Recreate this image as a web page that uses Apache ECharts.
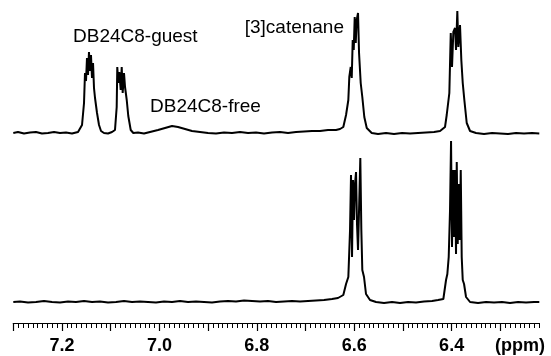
<!DOCTYPE html>
<html>
<head>
<meta charset="utf-8">
<script src="https://cdn.jsdelivr.net/npm/echarts@6/dist/echarts.min.js"></script>
<style>
  html, body { margin: 0; padding: 0; background: #fff; }
  #chart { width: 551px; height: 356px; }
</style>
</head>
<body>
<div id="chart"></div>
<script>
// chemical shift range shown (ppm), axis runs high -> low
const shiftMin = 6.22
const shiftMax = 7.30

// labelled ticks
const tickLabels = [6.4, 6.6, 6.8, 7.0, 7.2]

// upper spectrum (mixture): [ppm, intensity]
const topTrace = [
  [7.3000, 0], [7.2904, 1], [7.2780, -0.5], [7.2657, 0.5], [7.2534, 1], [7.2411, -0.5],
  [7.2288, 0], [7.2164, 1], [7.2041, 0], [7.1918, 0.5], [7.1795, -0.5], [7.1671, 1],
  [7.1630, 2], [7.1589, 8], [7.1548, 30], [7.1528, 60], [7.1507, 52], [7.1487, 75],
  [7.1466, 58], [7.1446, 81], [7.1425, 62], [7.1405, 78], [7.1384, 55], [7.1363, 70],
  [7.1343, 45], [7.1322, 35], [7.1281, 20], [7.1240, 8], [7.1199, 2], [7.1138, 0],
  [7.1055, -0.5], [7.0973, 1], [7.0912, 3], [7.0877, 26], [7.0865, 66], [7.0844, 50],
  [7.0823, 61], [7.0795, 43], [7.0774, 66], [7.0754, 40], [7.0727, 60], [7.0706, 46],
  [7.0671, 33], [7.0639, 17], [7.0589, 3], [7.0536, 0], [7.0439, 0.5], [7.0316, -0.5],
  [7.0193, 1], [7.0029, 3], [6.9885, 5], [6.9741, 7], [6.9618, 6], [6.9474, 4],
  [6.9331, 2], [6.9166, 1], [6.9002, 0], [6.8838, -0.5], [6.8674, 0.5], [6.8509, 0],
  [6.8345, 1], [6.8181, 0], [6.8016, 0.5], [6.7852, -0.5], [6.7688, 0.5], [6.7524, 1],
  [6.7359, 0], [6.7195, 1], [6.7031, 1.5], [6.6867, 2], [6.6702, 2], [6.6538, 3],
  [6.6374, 3], [6.6292, 4], [6.6224, 6], [6.6168, 18], [6.6121, 33], [6.6101, 56],
  [6.6072, 66], [6.6051, 55], [6.6031, 93], [6.6010, 83], [6.5990, 116], [6.5969, 90],
  [6.5949, 113], [6.5922, 120], [6.5901, 80], [6.5867, 50], [6.5834, 36], [6.5793, 16],
  [6.5743, 5], [6.5641, 0], [6.5511, -1], [6.5347, 0], [6.5183, -1], [6.5018, 0],
  [6.4854, -0.5], [6.4690, 0], [6.4526, 0.5], [6.4361, 1], [6.4238, 2], [6.4136, 6],
  [6.4101, 18], [6.4047, 40], [6.4018, 100], [6.3992, 66], [6.3965, 101], [6.3930, 105],
  [6.3910, 83], [6.3883, 122], [6.3862, 86], [6.3828, 108], [6.3801, 73], [6.3772, 50],
  [6.3739, 33], [6.3690, 10], [6.3622, 2], [6.3499, 0], [6.3335, -1], [6.3170, 0],
  [6.3006, -0.5], [6.2842, -1], [6.2678, 0], [6.2513, -0.5], [6.2349, 0], [6.2200, -0.5]
]

// lower spectrum ([3]catenane alone): [ppm, intensity]
const bottomTrace = [
  [7.3000, 0], [7.2862, 0.5], [7.2698, -0.5], [7.2534, 0], [7.2370, 1], [7.2205, 0],
  [7.2041, -0.5], [7.1877, 0.5], [7.1713, 0], [7.1548, 1], [7.1384, 0], [7.1220, 0.5],
  [7.1055, -0.5], [7.0891, 0], [7.0727, 1], [7.0563, 0], [7.0398, 0.5], [7.0234, 0],
  [7.0070, -0.5], [6.9906, 0.5], [6.9741, 0], [6.9577, 1], [6.9413, 0], [6.9248, 0.5],
  [6.9084, 0], [6.8920, -0.5], [6.8756, 0.5], [6.8591, 1], [6.8427, 0.5], [6.8263, 1.5],
  [6.8099, 1], [6.7934, 0.5], [6.7770, 1], [6.7606, 0], [6.7441, 0.5], [6.7277, 1],
  [6.7113, 0.5], [6.6949, 1], [6.6784, 1.5], [6.6620, 2], [6.6456, 3], [6.6333, 4],
  [6.6224, 7], [6.6168, 18], [6.6121, 25], [6.6086, 72], [6.6066, 127], [6.6045, 45],
  [6.6025, 122], [6.6004, 82], [6.5984, 118], [6.5963, 130], [6.5943, 78], [6.5922, 52],
  [6.5901, 92], [6.5875, 144], [6.5854, 72], [6.5834, 32], [6.5799, 25], [6.5758, 8],
  [6.5676, 2], [6.5552, 0], [6.5388, -1], [6.5224, 0], [6.5060, -1], [6.4895, 0],
  [6.4731, -0.5], [6.4567, 0.5], [6.4402, 1], [6.4279, 2], [6.4170, 3], [6.4115, 22],
  [6.4088, 28], [6.4060, 45], [6.4033, 92], [6.4012, 161], [6.3992, 55], [6.3971, 132],
  [6.3951, 65], [6.3930, 132], [6.3910, 48], [6.3895, 140], [6.3875, 58], [6.3854, 118],
  [6.3834, 62], [6.3813, 132], [6.3793, 45], [6.3772, 22], [6.3745, 18], [6.3704, 5],
  [6.3622, 0], [6.3458, -1], [6.3294, 0], [6.3129, -0.5], [6.2965, 0], [6.2801, -1],
  [6.2637, 0], [6.2472, -0.5], [6.2308, 0], [6.2200, 0]
]

const annotations = [
  { text: 'DB24C8-guest', x: 73, y: 37, align: 'left' },
  { text: 'DB24C8-free', x: 150, y: 107, align: 'left' },
  { text: '[3]catenane', x: 344, y: 28, align: 'right' }
]

// longer ruler ticks every 0.1 ppm (small ones come from the 0.01 interval)
const majorTicks = []
for (let i = 63; i <= 73; i++) majorTicks.push(i / 10)

const font = 'Arial, "Liberation Sans", sans-serif'
const chart = echarts.init(document.getElementById('chart'))

const lineSeries = (data, idx) => ({
  type: 'line',
  xAxisIndex: idx,
  yAxisIndex: idx,
  data: data,
  showSymbol: false,
  clip: false,
  animation: false,
  lineStyle: { color: '#000', width: 2 }
})

// one bottom axis layer (ticks or labels) on the lower grid
const rulerAxis = (extra) => Object.assign({
  type: 'value', gridIndex: 1, min: shiftMin, max: shiftMax, inverse: true,
  position: 'bottom', offset: 11,
  axisLine: { show: false, onZero: false },
  axisTick: { show: false },
  axisLabel: { show: false },
  splitLine: { show: false }
}, extra)

const option = {
  backgroundColor: '#fff',
  grid: [
    { left: 13.3, right: 11.7, top: 8, height: 135 },
    { left: 13.3, right: 11.7, top: 137, height: 175 }
  ],
  xAxis: [
    { type: 'value', gridIndex: 0, min: shiftMin, max: shiftMax, inverse: true, show: false },
    rulerAxis({
      interval: 0.01,
      axisLine: { show: true, onZero: false, lineStyle: { color: '#000', width: 1.2 } },
      axisTick: { show: true, interval: 0, length: 5, lineStyle: { color: '#000', width: 1 } },
      axisLabel: { show: false, interval: 0 }
    }),
    rulerAxis({
      axisTick: { show: true, customValues: majorTicks, length: 8, lineStyle: { color: '#000', width: 1.2 } }
    }),
    rulerAxis({
      axisLabel: {
        show: true,
        customValues: tickLabels,
        formatter: v => v.toFixed(1),
        color: '#000', fontSize: 18, fontWeight: 'bold', fontFamily: font, margin: 14
      }
    })
  ],
  yAxis: [
    { type: 'value', gridIndex: 0, min: -10, max: 125, show: false },
    { type: 'value', gridIndex: 1, min: -10, max: 165, show: false }
  ],
  series: [
    lineSeries(topTrace, 0),
    lineSeries(bottomTrace, 1)
  ],
  graphic: annotations.map(a => ({
    type: 'text',
    x: a.x,
    y: a.y,
    style: { text: a.text, fill: '#000', font: '19px ' + font, align: a.align, verticalAlign: 'middle' }
  })).concat([{
    type: 'text',
    x: 495,
    y: 346,
    style: { text: '(ppm)', fill: '#000', font: 'bold 18px ' + font, align: 'left', verticalAlign: 'middle' }
  }])
}

chart.setOption(option)
</script>
</body>
</html>
